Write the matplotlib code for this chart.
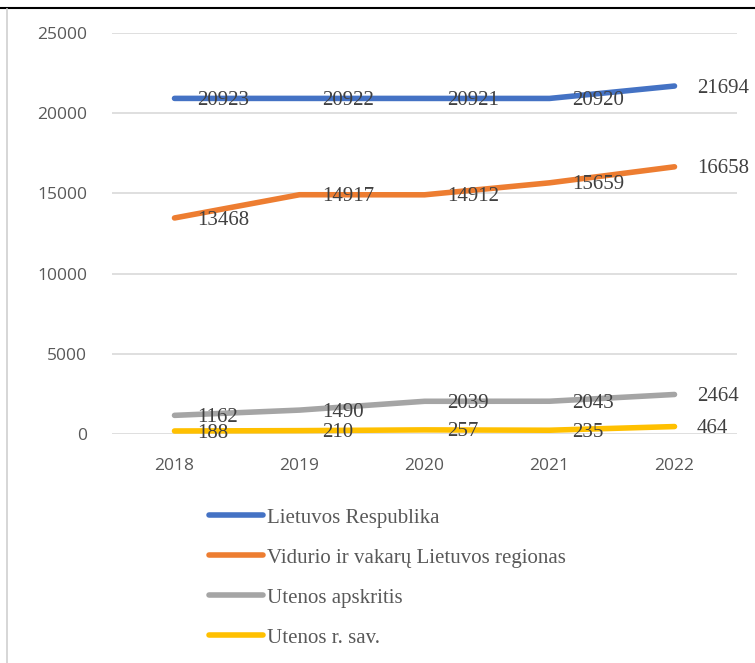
import matplotlib
matplotlib.use("Agg")
import matplotlib.pyplot as plt
from matplotlib.lines import Line2D

years = ["2018", "2019", "2020", "2021", "2022"]
series_names = ["Lietuvos Respublika", "Vidurio ir vakarų Lietuvos regionas",
                "Utenos apskritis", "Utenos r. sav."]
lietuva = [20923, 20922, 20921, 20920, 21694]
vidurio = [13468, 14917, 14912, 15659, 16658]
utenos_apskr = [1162, 1490, 2039, 2043, 2464]
utenos_rsav = [188, 210, 257, 235, 464]
y_ticks = [0, 5000, 10000, 15000, 20000, 25000]

colors = ["#4472C4", "#ED7D31", "#A5A5A5", "#FFC000"]
W, H = 755, 663
fig = plt.figure(figsize=(W / 100, H / 100), dpi=100)
ax = fig.add_axes([112 / W, 1 - 434 / H, 625 / W, (434 - 33) / H])

x = list(range(len(years)))
all_series = [lietuva, vidurio, utenos_apskr, utenos_rsav]
handles = []
for vals, name, c in zip(all_series, series_names, colors):
    ln, = ax.plot(x, vals, color=c, lw=4.0, solid_capstyle="round",
                  solid_joinstyle="round", label=name, zorder=3)
    handles.append(ln)
    for xi, v in zip(x, vals):
        ax.annotate(str(v), (xi, v), xytext=(16, -1.5), textcoords="offset points",
                    ha="left", va="center", fontsize=15, color="#404040",
                    family="Liberation Serif", zorder=4)

ax.set_xlim(-0.5, 4.5)
ax.set_ylim(0, 25000)
ax.set_yticks(y_ticks)
ax.set_yticklabels([str(t) for t in y_ticks])
ax.set_xticks(x)
ax.set_xticklabels(years)
ax.grid(axis="y", color="#D9D9D9", lw=1.2, zorder=0)
for s in ax.spines.values():
    s.set_visible(False)
ax.tick_params(length=0, colors="#595959", labelsize=12.5)
ax.tick_params(axis="y", pad=18)
ax.tick_params(axis="x", pad=17)
for lab in ax.get_xticklabels() + ax.get_yticklabels():
    lab.set_fontfamily("Open Sans")

leg = fig.legend(handles=handles, loc="upper left",
                 bbox_to_anchor=(209 / W, 1 - 508 / H),
                 bbox_transform=fig.transFigure, frameon=False,
                 borderpad=0, borderaxespad=0, handlelength=2.6,
                 handletextpad=0.2, labelspacing=0.98,
                 prop={"family": "Liberation Serif", "size": 15})
for t in leg.get_texts():
    t.set_color("#595959")

# outer borders
fig.add_artist(Line2D([0, 1], [1 - 8 / H, 1 - 8 / H], color="black", lw=1.5,
                      transform=fig.transFigure))
fig.add_artist(Line2D([7 / W, 7 / W], [0, 1 - 9 / H], color="#D0D0D0", lw=1.2,
                      transform=fig.transFigure))

fig.savefig("out.png", dpi=100)
